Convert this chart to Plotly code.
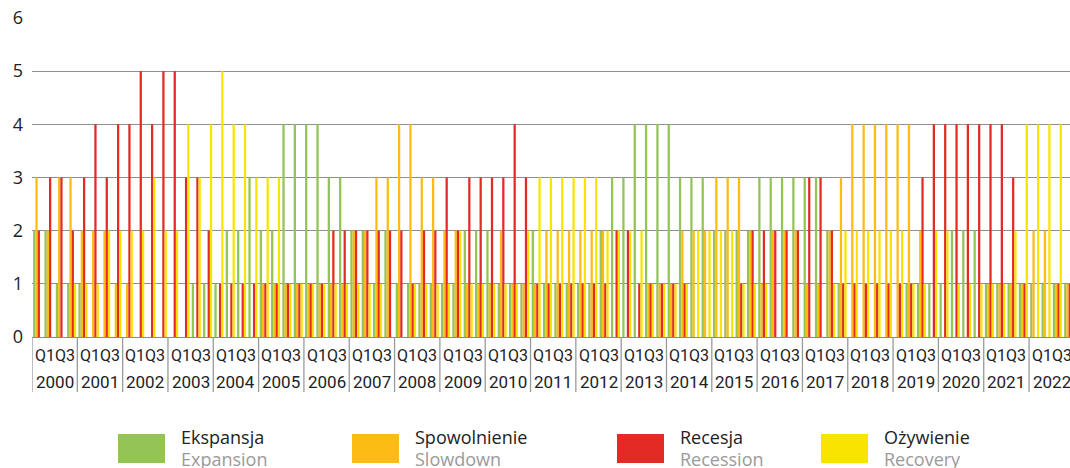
import plotly.graph_objects as go

years = [str(y) for y in range(2000, 2023)]
quarter_labels = ["Q1", "Q2", "Q3", "Q4"]

# values per quarter 2000Q1 ... 2022Q4
ekspansja = [2,2,1,1, 1,0,0,0, 0,0,0,0, 0,0,1,1, 1,2,2,3, 2,2,4,4,
             4,4,3,3, 2,2,1,2, 1,1,1,1, 1,1,2,2, 2,1,1,1, 2,1,1,1,
             1,1,2,3, 3,4,4,4, 4,3,3,3, 2,2,2,2, 3,3,3,3, 3,3,2,1,
             0,0,0,0, 0,1,1,1, 1,2,2,2, 1,1,1,1, 1,1,1,1]
spowolnienie = [3,2,3,3, 2,2,2,1, 1,0,0,0, 0,0,0,0, 0,0,0,0, 1,1,1,1,
                1,1,1,1, 2,2,3,3, 4,4,3,3, 2,2,1,1, 1,2,1,1, 1,2,2,2,
                2,2,2,0, 0,0,1,1, 1,2,2,2, 3,3,3,2, 1,2,2,2, 1,1,2,3,
                4,4,4,4, 4,4,2,0, 0,0,0,0, 1,1,1,1, 2,2,1,1]
recesja = [2,3,3,2, 3,4,3,4, 4,5,4,5, 5,3,3,2, 1,1,1,1, 1,1,1,1,
           1,1,2,2, 2,2,2,2, 2,1,2,2, 3,2,3,3, 3,3,4,3, 1,1,1,1,
           1,1,1,2, 2,1,1,1, 1,1,0,0, 0,0,1,2, 2,2,2,2, 3,3,2,1,
           1,1,1,1, 1,1,3,4, 4,4,4,4, 4,4,3,1, 0,0,1,1]
ozywienie = [0,0,0,1, 1,1,2,2, 2,2,3,2, 2,4,3,4, 5,4,4,3, 3,3,1,1,
             1,1,1,1, 1,1,1,0, 0,1,1,1, 1,2,1,1, 1,1,1,2, 3,3,3,3,
             3,3,2,2, 2,2,1,1, 1,1,2,2, 2,2,1,1, 1,0,0,0, 0,0,1,2,
             2,2,2,2, 2,1,1,2, 2,1,1,1, 1,1,2,4, 4,4,4,4]

series_pl = ["Ekspansja", "Spowolnienie", "Recesja", "Ożywienie"]
series_en = ["Expansion", "Slowdown", "Recession", "Recovery"]
colors = ["#94C356", "#FDBC14", "#E42A24", "#F8E400"]

n = len(ekspansja)
xq = list(range(n))

fig = go.Figure()
for name, vals, col in zip(series_pl, [ekspansja, spowolnienie, recesja, ozywienie], colors):
    fig.add_trace(go.Bar(x=xq, y=vals, name=name, marker=dict(color=col, line=dict(width=0)),
                         showlegend=False, hoverinfo="skip"))

W, H = 1070, 468
L, T, B = 32, 18, 337
PW = W - L
PH = B - T
q_px = 11.33
x_right = -0.5 + PW / q_px

def px(xp):
    return (xp - L) / PW

def py(yp):
    return (B - yp) / PH

font_axis = "Roboto, Open Sans, sans-serif"

annotations = []
shapes = []
for k, yr in enumerate(years):
    xc = 4 * k + 1.5
    annotations.append(dict(x=xc, y=py(355), xref="x", yref="paper", text=quarter_labels[0] + quarter_labels[2],
                            showarrow=False, font=dict(family=font_axis, size=16, color="#222"),
                            xanchor="center", yanchor="middle"))
    annotations.append(dict(x=xc, y=py(382), xref="x", yref="paper", text=yr,
                            showarrow=False, font=dict(family=font_axis, size=17, color="#222"),
                            xanchor="center", yanchor="middle"))
for k in range(len(years) + 1):
    xb = 4 * k - 0.5
    if xb <= x_right:
        shapes.append(dict(type="line", xref="x", yref="paper", x0=xb, x1=xb, y0=0, y1=py(392),
                           line=dict(color="#9a9a9a", width=1.3)))

# legend
leg_boxes = [118, 352, 617, 821]
for bx, col, pl, en in zip(leg_boxes, colors, series_pl, series_en):
    shapes.append(dict(type="rect", xref="paper", yref="paper", x0=px(bx), x1=px(bx + 47),
                       y0=py(463), y1=py(434), fillcolor=col, line=dict(width=0)))
    annotations.append(dict(x=px(bx + 61), y=py(437), xref="paper", yref="paper", text=pl,
                            showarrow=False, font=dict(family="Open Sans, sans-serif", size=18, color="#222"),
                            xanchor="left", yanchor="middle"))
    annotations.append(dict(x=px(bx + 61), y=py(459), xref="paper", yref="paper", text=en,
                            showarrow=False, font=dict(family="Open Sans, sans-serif", size=18, color="#9a9a9a"),
                            xanchor="left", yanchor="middle"))

fig.update_layout(
    width=W, height=H,
    margin=dict(l=L, r=0, t=T, b=H - B, pad=0),
    plot_bgcolor="white", paper_bgcolor="white",
    barmode="group", bargap=0.2, bargroupgap=0.0,
    hovermode=False,
    xaxis=dict(range=[-0.5, x_right], showticklabels=False, showgrid=False, zeroline=False,
               showline=True, linecolor="#8a8a8a", linewidth=1.3, ticks=""),
    yaxis=dict(range=[0, 6], tickvals=[0, 1, 2, 3, 4, 5, 6], showgrid=True, gridcolor="#8f8f8f",
               gridwidth=1, zeroline=False, showline=False,
               tickfont=dict(family="Open Sans, sans-serif", size=18, color="#222"), ticks="",
               ticklabelstandoff=8),
    annotations=annotations,
    shapes=shapes,
)

fig.write_html("out.html", config={"displayModeBar": False, "staticPlot": True},
               post_script="document.body.style.margin='0';document.body.style.overflow='hidden';")
